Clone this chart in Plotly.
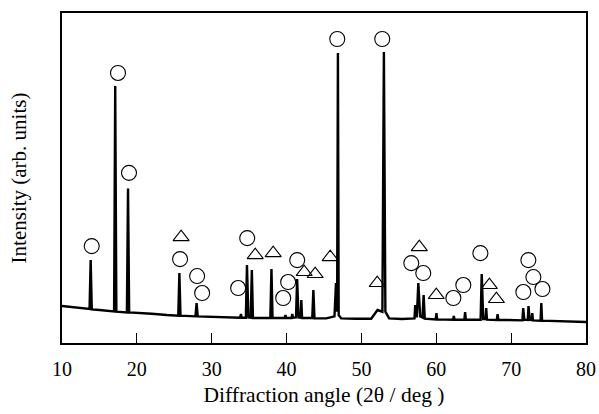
import plotly.graph_objects as go

# Diffraction pattern: (2theta, intensity) profile points
pattern_x = [10.0, 11.0, 12.0, 13.0, 13.68, 13.83, 13.98, 15.0, 16.0, 16.96, 17.11, 17.26,
             18.67, 18.82, 18.97, 20.0, 22.0, 24.0, 25.53, 25.68, 25.83, 27.83, 27.98, 28.13,
             30.0, 32.0, 33.8, 33.9, 34.0, 34.56, 34.71, 34.9, 35.21, 35.36, 35.51, 36.7,
             37.83, 37.98, 38.13, 39.75, 39.85, 39.95, 40.66, 40.76, 40.86, 41.26, 41.41, 41.6,
             41.87, 41.97, 42.07, 43.43, 43.58, 43.73, 45.3, 46.4, 46.6, 46.75, 46.86, 46.96,
             47.3, 49.3, 51.3, 52.15, 52.8, 53.0, 53.2, 53.7, 55.4, 57.09, 57.19, 57.4,
             57.6, 57.85, 58.16, 58.31, 58.46, 59.92, 60.02, 60.12, 62.24, 62.34, 62.44, 63.75,
             63.85, 63.95, 65.92, 66.07, 66.27, 66.57, 66.67, 66.77, 68.09, 68.19, 68.29, 69.5,
             71.51, 71.61, 71.76, 72.22, 72.32, 72.47, 72.72, 72.82, 72.92, 73.93, 74.03, 74.13,
             75.5, 77.5, 80.0]
pattern_y = [11.7, 11.5, 11.2, 10.9, 10.8, 25.5, 10.7, 10.5, 10.3, 10.1, 77.8, 10.0,
             9.8, 47.0, 9.8, 9.7, 9.4, 9.0, 8.8, 21.6, 8.8, 8.6, 12.6, 8.6,
             8.4, 8.3, 8.2, 9.3, 8.2, 8.2, 24.0, 8.3, 8.2, 22.5, 8.1, 8.1,
             8.1, 22.8, 8.1, 8.1, 9.0, 8.1, 8.1, 9.3, 8.2, 8.3, 19.8, 8.3,
             8.2, 13.5, 8.1, 8.1, 16.5, 8.0, 8.0, 8.6, 18.6, 10.0, 87.7, 9.0,
             8.0, 7.9, 7.9, 10.5, 10.0, 88.0, 10.0, 8.0, 7.8, 8.0, 12.0, 8.3,
             18.6, 8.6, 8.3, 15.0, 7.9, 7.7, 9.6, 7.7, 7.6, 8.7, 7.6, 7.6,
             9.9, 7.6, 7.6, 21.3, 7.8, 7.8, 11.1, 7.6, 7.5, 9.3, 7.5, 7.5,
             7.4, 11.1, 7.6, 7.5, 11.7, 7.6, 7.5, 9.6, 7.4, 7.3, 12.6, 7.3,
             7.2, 7.1, 6.9]

# Phase markers (open circles and open triangles)
circle_x = [13.97, 17.48, 18.95, 25.77, 28.05, 28.72, 33.53, 34.74, 41.42, 40.21, 39.55,
            46.77, 52.78, 56.66, 58.26, 62.28, 63.61, 65.89, 72.30, 72.97, 71.63, 74.18]
circle_y = [29.7, 81.7, 51.7, 25.8, 20.7, 15.6, 17.1, 32.1, 25.5, 18.9, 14.1,
            91.9, 91.9, 24.6, 21.6, 14.1, 18.0, 27.6, 25.5, 20.4, 15.9, 16.8]
triangle_x = [25.91, 35.81, 38.21, 42.35, 43.82, 45.83, 52.11, 57.73, 60.0, 67.09, 68.03]
triangle_y = [32.4, 27.0, 27.6, 21.9, 21.3, 26.4, 18.6, 29.4, 15.0, 18.0, 13.8]

x_ticks = [10, 20, 30, 40, 50, 60, 70, 80]

font_family = "Liberation Serif, Times New Roman, serif"

fig = go.Figure()
fig.add_trace(go.Scatter(x=pattern_x, y=pattern_y, mode="lines",
                         line=dict(color="black", width=2.4), showlegend=False,
                         hoverinfo="skip"))
fig.add_trace(go.Scatter(x=circle_x, y=circle_y, mode="markers",
                         marker=dict(symbol="circle-open", size=15, color="black",
                                     line=dict(width=1.1, color="black")),
                         showlegend=False))
fig.add_trace(go.Scatter(x=triangle_x, y=triangle_y, mode="markers",
                         marker=dict(symbol="triangle-up-open", size=14, color="black",
                                     line=dict(width=1.1, color="black")),
                         showlegend=False))

fig.update_layout(
    width=599, height=414,
    margin=dict(l=62, r=13, t=13, b=71),
    paper_bgcolor="white", plot_bgcolor="white",
    font=dict(family=font_family, size=20, color="black"),
    xaxis=dict(range=[10, 80], tickvals=x_ticks, ticktext=[str(v) for v in x_ticks],
               ticks="inside", ticklen=10, tickwidth=1.3, tickcolor="black",
               ticklabelstandoff=7, automargin=False,
               showline=True, linecolor="black", linewidth=2.2, mirror=True,
               showgrid=False, zeroline=False, tickfont=dict(size=20),
               title=dict(text="Diffraction angle (2θ / deg )", standoff=8,
                          font=dict(size=21.5))),
    yaxis=dict(range=[0.6, 99.7], showticklabels=False, ticks="", automargin=False,
               showline=True, linecolor="black", linewidth=2.2, mirror=True,
               showgrid=False, zeroline=False,
               title=dict(text="Intensity (arb. units)", standoff=28,
                          font=dict(size=21))),
)

fig.write_html("out.html", config={"displayModeBar": False},
               post_script="document.body.style.margin='0px';")
